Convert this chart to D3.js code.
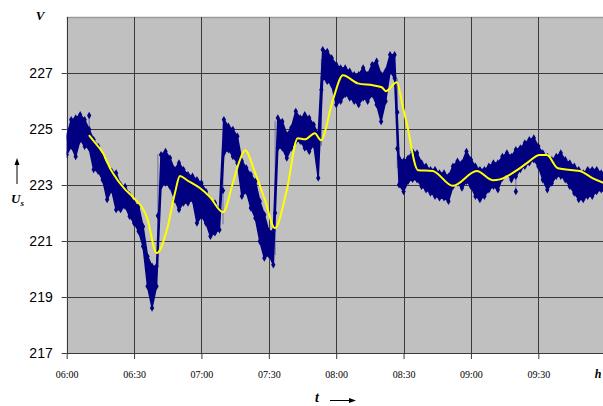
<!DOCTYPE html>
<html>
<head>
<meta charset="utf-8">
<script src="https://cdn.jsdelivr.net/npm/d3@7"></script>
<style>
  body { margin: 0; background: #fff; }
  svg { display: block; }
</style>
</head>
<body>
<svg id="chart" width="603" height="406"></svg>
<script>
// voltage band, one reading of the upper and lower edge every 2 minutes from 06:00
var sampleStep = 2
var bandHigh = [
  224.74, 225.33, 225.39, 225.51, 225.33, 224.98, 224.62, 224.38, 224.02, 223.67,
  223.49, 223.43, 223.01, 222.95, 222.65, 222.36, 222.24, 221.52, 220.45, 220.10,
  220.10, 224.08, 224.20, 223.96, 223.55, 223.79, 223.55, 223.37, 223.31, 223.19,
  223.07, 222.77, 222.48, 222.36, 222.12, 225.33, 225.10, 224.98, 224.74, 223.85,
  223.61, 223.37, 223.13, 222.42, 221.94, 221.35, 221.35, 225.39, 225.27, 224.80,
  225.04, 225.63, 225.39, 225.51, 225.39, 225.15, 224.80, 227.83, 227.77, 227.54,
  227.30, 227.18, 227.18, 227.06, 226.94, 226.94, 227.18, 226.94, 227.30, 227.42,
  226.94, 227.06, 227.65, 227.65, 223.96, 223.85, 223.96, 224.20, 224.14, 223.79,
  223.67, 223.55, 223.55, 223.43, 223.43, 223.31, 223.67, 223.85, 223.79, 224.20,
  223.90, 223.67, 223.55, 223.55, 223.67, 223.79, 223.79, 224.02, 224.14, 224.02,
  224.26, 224.32, 224.50, 224.62, 224.68, 224.38, 224.14, 224.02, 223.90, 224.02,
  224.14, 223.90, 223.79, 223.67, 223.55, 223.43, 223.55, 223.55, 223.55, 223.43,
  223.43
]
var bandLow = [
  224.08, 224.38, 224.02, 224.62, 224.38, 224.32, 223.55, 223.49, 223.19, 222.48,
  222.83, 222.12, 222.12, 222.24, 221.88, 221.64, 221.35, 220.81, 219.38, 218.61,
  219.38, 222.95, 223.07, 222.95, 222.48, 222.12, 222.36, 222.36, 222.48, 221.64,
  221.88, 221.64, 221.17, 221.29, 221.40, 224.14, 224.26, 224.02, 223.79, 222.60,
  222.77, 222.18, 221.82, 220.99, 220.39, 220.51, 220.15, 224.32, 224.32, 223.96,
  224.32, 224.56, 224.56, 224.32, 224.20, 224.44, 223.25, 226.82, 226.70, 226.58,
  225.87, 225.99, 226.23, 226.11, 225.99, 225.87, 226.11, 225.99, 226.23, 225.87,
  225.27, 225.99, 227.06, 226.82, 223.01, 222.77, 223.13, 223.20, 223.19, 222.95,
  222.83, 222.71, 222.60, 222.54, 222.54, 222.42, 222.95, 223.07, 222.89, 223.13,
  222.95, 222.60, 222.48, 222.60, 222.83, 222.95, 222.83, 223.25, 223.43, 223.19,
  223.31, 223.55, 223.67, 223.79, 223.90, 223.67, 223.19, 222.83, 223.07, 223.31,
  223.31, 223.19, 222.95, 222.71, 222.48, 222.48, 222.60, 222.60, 222.77, 222.83,
  222.71
]

// sudden steps of the signal: minute, value before, value after
var jumpMinutes = [10, 40.6, 69.6, 92.8, 113.4, 147.2, 200]
var jumpFrom = [225.48, 220.1, 221.6, 220.5, 224.4, 226.8, 223.3]
var jumpTo = [224.9, 224.1, 225.4, 225.3, 227.5, 223.6, 222.77]
var stepMarkMinutes = [10, 40.6, 69.6, 92.8, 113.4, 147.2, 147.2, 200]
var stepMarkVolts = [225.48, 221.9, 222.8, 222.0, 226.4, 225.6, 224.3, 222.77]

// moving average (yellow)
var avgMinutes = [9.9, 11.7, 16.2, 19.3, 20.6, 25.9, 29.5, 35.7, 40.1, 44.6,
  48.2, 50.4, 53.6, 59.3, 63.8, 69.6, 74.0, 77.1, 79.4, 83.8,
  88.3, 92.7, 98.0, 102.9, 106.1, 110.5, 113.2, 118.5, 123.0, 129.6,
  136.3, 140.3, 142.1, 147.0, 149.7, 151.3, 156.4, 163.0, 171.9, 182.6,
  189.7, 192.9, 200.5, 204.9, 210.6, 213.8, 218.7, 225.4, 228.5, 234.3, 240]
var avgVolts = [224.78, 224.6, 224.13, 223.6, 223.42, 222.85, 222.57, 221.85, 220.57, 221.39,
  222.71, 223.32, 223.17, 222.89, 222.57, 222.03, 223.07, 223.89, 224.24, 223.46,
  222.46, 221.46, 222.82, 224.67, 224.63, 224.85, 224.6, 226.03, 226.92, 226.63,
  226.56, 226.49, 226.35, 226.67, 225.78, 225.25, 223.53, 223.5, 222.97, 223.5,
  223.17, 223.2, 223.53, 223.78, 224.07, 224.07, 223.6, 223.53, 223.5, 223.24, 223.05]

var yTicks = [217, 219, 221, 223, 225, 227]
var xTickMinutes = [0, 30, 60, 90, 120, 150, 180, 210]

var start = new Date(2000, 0, 1, 6, 0)
function at(m) { return new Date(start.getTime() + m * 60000) }

var x = d3.scaleTime().domain([at(0), at(240)]).range([66.7, 605.7])
var y = d3.scaleLinear().domain([217, 229]).range([353, 17])
var navy = "#000080"

var svg = d3.select("#chart")

svg.append("defs").append("clipPath").attr("id", "plot")
  .append("rect")
  .attr("x", x(at(0))).attr("y", y(229))
  .attr("width", 603 - x(at(0))).attr("height", y(217) - y(229))

svg.append("rect")
  .attr("x", x(at(0))).attr("y", y(229))
  .attr("width", 603 - x(at(0))).attr("height", y(217) - y(229))
  .attr("fill", "#c0c0c0")

// grid
svg.append("g").selectAll("line")
  .data(yTicks.filter(function(d) { return d > 217 }))
  .enter().append("line")
  .attr("x1", x(at(0))).attr("x2", 603)
  .attr("y1", function(d) { return Math.round(y(d)) + 0.5 })
  .attr("y2", function(d) { return Math.round(y(d)) + 0.5 })
  .attr("stroke", "#3a3a3a")
svg.append("line")
  .attr("x1", x(at(0))).attr("x2", 603)
  .attr("y1", y(229) + 0.5).attr("y2", y(229) + 0.5)
  .attr("stroke", "#9a9a9a").attr("stroke-width", 1.5)
svg.append("g").selectAll("line")
  .data(xTickMinutes)
  .enter().append("line")
  .attr("x1", function(d) { return Math.round(x(at(d))) + 0.5 })
  .attr("x2", function(d) { return Math.round(x(at(d))) + 0.5 })
  .attr("y1", y(229)).attr("y2", y(217))
  .attr("stroke", "#3a3a3a")

var plot = svg.append("g").attr("clip-path", "url(#plot)")

var band = bandHigh.map(function(h, i) {
  return { t: at(i * sampleStep), hi: h, lo: bandLow[i] }
})

// thin connecting lines at the steps
plot.append("g").selectAll("line")
  .data(jumpMinutes)
  .enter().append("line")
  .attr("x1", function(d) { return x(at(d)) })
  .attr("x2", function(d) { return x(at(d)) })
  .attr("y1", function(d, i) { return y(jumpFrom[i]) })
  .attr("y2", function(d, i) { return y(jumpTo[i]) })
  .attr("stroke", "#5a5aa0").attr("stroke-width", 1).attr("opacity", 0.8)

var bandArea = d3.area()
  .x(function(d) { return x(d.t) })
  .y0(function(d) { return y(d.lo) })
  .y1(function(d) { return y(d.hi) })
plot.append("path")
  .datum(band)
  .attr("d", bandArea)
  .attr("fill", navy)
  .attr("stroke", navy).attr("stroke-width", 1.5)

var diamond = d3.symbol(d3.symbolDiamond, 16)
var marks = []
band.forEach(function(d) {
  marks.push([d.t, d.hi])
  marks.push([d.t, d.lo])
})
stepMarkMinutes.forEach(function(m, i) { marks.push([at(m), stepMarkVolts[i]]) })
plot.append("g").selectAll("path")
  .data(marks)
  .enter().append("path")
  .attr("d", diamond)
  .attr("transform", function(d) { return "translate(" + x(d[0]) + "," + y(d[1]) + ")" })
  .attr("fill", navy)

var avgLine = d3.line()
  .x(function(d, i) { return x(at(avgMinutes[i])) })
  .y(function(d) { return y(d) })
  .curve(d3.curveMonotoneX)
plot.append("path")
  .datum(avgVolts)
  .attr("d", avgLine)
  .attr("fill", "none")
  .attr("stroke", "#ffff00")
  .attr("stroke-width", 2)

// axes
var yAxis = svg.append("g")
  .attr("transform", "translate(" + x(at(0)) + ",0)")
  .call(d3.axisLeft(y).tickValues(yTicks).tickSize(5).tickPadding(9).tickFormat(d3.format("d")))
yAxis.select(".domain").remove()
yAxis.selectAll("line").attr("stroke", "#3a3a3a")
yAxis.selectAll("text")
  .attr("font-family", "Liberation Sans, Arial, sans-serif")
  .attr("font-size", 14).attr("fill", "#000")

svg.append("line")
  .attr("x1", x(at(0))).attr("x2", 603)
  .attr("y1", y(217) + 0.5).attr("y2", y(217) + 0.5)
  .attr("stroke", "#3a3a3a")

var xAxis = svg.append("g")
  .attr("transform", "translate(0," + y(217) + ")")
  .call(d3.axisBottom(x).tickValues(xTickMinutes.map(at)).tickSize(6).tickPadding(12)
    .tickFormat(d3.timeFormat("%H:%M")))
xAxis.select(".domain").remove()
xAxis.selectAll("line").attr("stroke", "#3a3a3a")
xAxis.selectAll("text")
  .attr("font-family", "Liberation Serif, Times New Roman, serif")
  .attr("font-size", 10).attr("fill", "#000")

// axis names
var serif = "Liberation Serif, Times New Roman, serif"
svg.append("text").attr("x", 40).attr("y", 20).attr("text-anchor", "middle")
  .attr("font-family", serif).attr("font-style", "italic").attr("font-weight", "bold")
  .attr("font-size", 13).text("V")
var us = svg.append("text").attr("x", 11).attr("y", 203)
  .attr("font-family", serif).attr("font-style", "italic").attr("font-weight", "bold")
  .attr("font-size", 13)
us.append("tspan").text("U")
us.append("tspan").attr("font-size", 9).attr("dy", 3).text("s")
svg.append("text").attr("x", 598).attr("y", 378).attr("text-anchor", "middle")
  .attr("font-family", serif).attr("font-style", "italic").attr("font-weight", "bold")
  .attr("font-size", 12).text("h")
svg.append("text").attr("x", 317).attr("y", 402).attr("text-anchor", "middle")
  .attr("font-family", serif).attr("font-style", "italic").attr("font-weight", "bold")
  .attr("font-size", 14).text("t")

// arrows
svg.append("line").attr("x1", 17).attr("x2", 17).attr("y1", 184).attr("y2", 163)
  .attr("stroke", "#000").attr("stroke-width", 1)
svg.append("path").attr("d", "M17,158 L14.5,165 L19.5,165 Z").attr("fill", "#000")
svg.append("line").attr("x1", 330).attr("x2", 350).attr("y1", 400.5).attr("y2", 400.5)
  .attr("stroke", "#000").attr("stroke-width", 1)
svg.append("path").attr("d", "M356,400.5 L349,398 L349,403 Z").attr("fill", "#000")
</script>
</body>
</html>
